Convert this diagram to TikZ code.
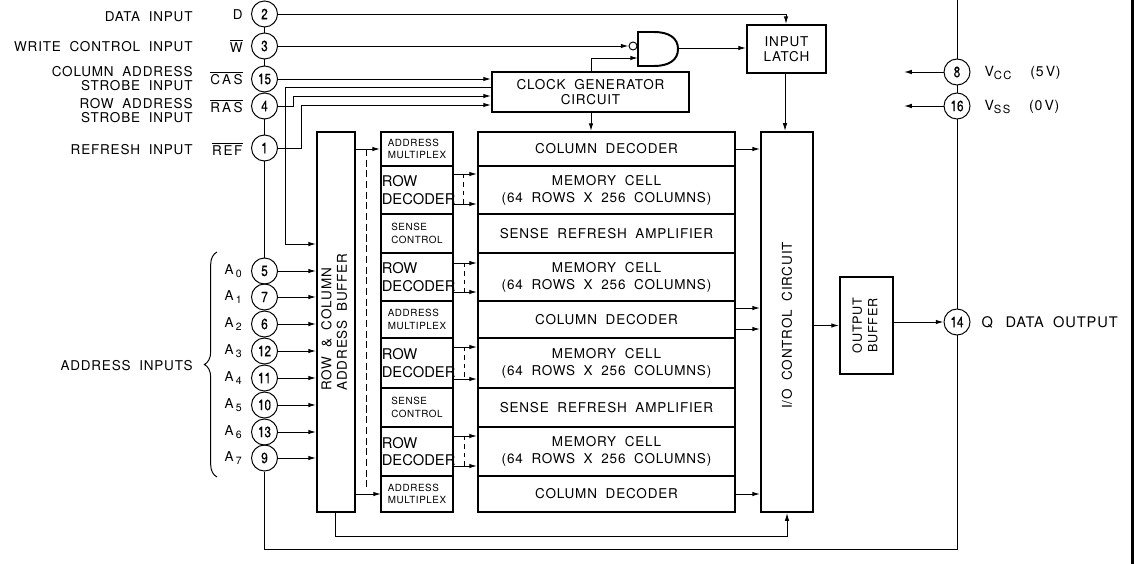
\documentclass[tikz,border=0pt]{standalone}
\usepackage{amsmath}
\usepackage{fontspec}
\setmainfont[LetterSpace=6,WordSpace=1.9]{TeX Gyre Heros}
\newfontfamily\plainfont{TeX Gyre Heros}
\newfontfamily\pinfont[FakeStretch=0.8,FakeBold=0.6]{TeX Gyre Heros}
\usetikzlibrary{arrows.meta,decorations.pathreplacing}

\tikzset{
    pin/.style={draw, circle, inner sep=0pt, minimum size=0.65cm, font=\pinfont\fontsize{10.5}{10.5}\selectfont},
    blockbox/.style={draw, line width=1.4pt, rectangle, inner sep=0pt, align=center},
    smallbox/.style={blockbox, minimum width=1.8cm, align=left, font=\fontsize{7}{9}\selectfont},
    decbox/.style={blockbox, minimum width=1.8cm, text width=1.76cm, align=left, font=\plainfont\fontsize{10.5}{12.5}\selectfont},
    cellbox/.style={blockbox, minimum width=6.425cm, font=\fontsize{9.6}{12}\selectfont},
    lbl/.style={anchor=east, align=right, inner sep=0pt, font=\fontsize{9.6}{10}\selectfont},
}

\begin{document}
\begin{tikzpicture}[x=0.025cm, y=-0.025cm, >={Latex[length=5.5pt,width=3.2pt]}, line width=0.7pt, font=\fontsize{9.6}{11}\selectfont]
        \useasboundingbox (0,0) rectangle (1135,564);
        %% pines de control
        \node[pin] (p2)  at (264.5,14)  {2};
        \node[pin] (p3)  at (264.5,46)  {3};
        \node[pin] (p15) at (264.5,79)  {15};
        \node[pin] (p4)  at (264.5,106) {4};
        \node[pin] (p1)  at (264.5,148) {1};
        %% pines de direccion
        \node[pin] (p5)  at (264.5,271) {5};
        \node[pin] (p7)  at (264.5,297) {7};
        \node[pin] (p6)  at (264.5,324) {6};
        \node[pin] (p12) at (264.5,351) {12};
        \node[pin] (p11) at (264.5,378) {11};
        \node[pin] (p10) at (264.5,405) {10};
        \node[pin] (p13) at (264.5,432) {13};
        \node[pin] (p9)  at (264.5,458) {9};
        %% pines de la derecha
        \node[pin] (p8)  at (957,72)  {8};
        \node[pin] (p16) at (957,106) {16};
        \node[pin] (p14) at (957,322) {14};
        %% textos de la izquierda
        \node[lbl] (ldata)  at (193,17)  {DATA INPUT};
        \node[lbl] (lwrite) at (193,47)  {WRITE CONTROL INPUT};
        \node[lbl] (lcas)   at (193,79)  {COLUMN ADDRESS\\STROBE INPUT};
        \node[lbl] (lras)   at (193,111) {ROW ADDRESS\\STROBE INPUT};
        \node[lbl] (lref)   at (193,150) {REFRESH INPUT};
        \node[lbl] (laddr)  at (193,366) {ADDRESS INPUTS};
        \node[lbl] (sd)   at (243,15)  {D};
        \node[lbl] (sw)   at (243,46)  {$\overline{\mbox{W}}$};
        \node[lbl] (scas) at (243,78)  {$\overline{\mbox{C\kern1.6ptA\kern1.6ptS}}$};
        \node[lbl] (sras) at (243,106) {$\overline{\mbox{R\kern1.6ptA\kern1.6ptS}}$};
        \node[lbl] (sref) at (243,149) {$\overline{\mbox{R\kern1.2ptE\kern1.2ptF}}$};
        \node[lbl] (sa0) at (243,271) {A\,$_{\mbox{\fontsize{7.5}{8}\selectfont 0}}$};
        \node[lbl] (sa1) at (243,297) {A\,$_{\mbox{\fontsize{7.5}{8}\selectfont 1}}$};
        \node[lbl] (sa2) at (243,324) {A\,$_{\mbox{\fontsize{7.5}{8}\selectfont 2}}$};
        \node[lbl] (sa3) at (243,351) {A\,$_{\mbox{\fontsize{7.5}{8}\selectfont 3}}$};
        \node[lbl] (sa4) at (243,378) {A\,$_{\mbox{\fontsize{7.5}{8}\selectfont 4}}$};
        \node[lbl] (sa5) at (243,405) {A\,$_{\mbox{\fontsize{7.5}{8}\selectfont 5}}$};
        \node[lbl] (sa6) at (243,432) {A\,$_{\mbox{\fontsize{7.5}{8}\selectfont 6}}$};
        \node[lbl] (sa7) at (243,458) {A\,$_{\mbox{\fontsize{7.5}{8}\selectfont 7}}$};
        %% textos de la derecha
        \node[anchor=west, inner sep=0pt, font=\fontsize{10}{11}\selectfont] (lvcc) at (984,73)
            {V$_{\mbox{\fontsize{8}{8}\selectfont C\kern1ptC}}$\ \ (5\kern1.5ptV)};
        \node[anchor=west, inner sep=0pt, font=\fontsize{10}{11}\selectfont] (lvss) at (984,107)
            {V$_{\mbox{\fontsize{8}{8}\selectfont S\kern1ptS}}$\ \ (0\kern1.5ptV)};
        \node[anchor=west, inner sep=0pt, font=\fontsize{10.4}{11}\selectfont] (lq) at (981,322)
            {Q\kern9pt DATA OUTPUT};
        %% bloques
        \node[blockbox, minimum width=0.95cm, minimum height=9.5cm] (buf) at (336,322)
            {\rotatebox{90}{\begin{tabular}{@{}l@{}}ROW \& COLUMN\\ADDRESS BUFFER\end{tabular}}};
        \node[smallbox, minimum height=0.85cm] (mux1) at (417,149) {ADDRESS\\MULTIPLEX};
        \node[decbox, minimum height=1.2cm]    (dec1) at (417,190) {ROW\\DECODER};
        \node[smallbox, minimum height=0.975cm] (sen1) at (417,233.5) {SENSE\\CONTROL};
        \node[decbox, minimum height=1.2cm]    (dec2) at (417,277) {ROW\\DECODER};
        \node[smallbox, minimum height=0.925cm] (mux2) at (417,319.5) {ADDRESS\\MULTIPLEX};
        \node[decbox, minimum height=1.25cm]   (dec3) at (417,363) {ROW\\DECODER};
        \node[smallbox, minimum height=0.975cm] (sen2) at (417,407.5) {SENSE\\CONTROL};
        \node[decbox, minimum height=1.225cm]  (dec4) at (417,451.5) {ROW\\DECODER};
        \node[smallbox, minimum height=0.9cm]  (mux3) at (417,494) {ADDRESS\\MULTIPLEX};
        \node[cellbox, minimum height=0.85cm]  (col1) at (606.5,149) {COLUMN DECODER};
        \node[cellbox, minimum height=1.2cm]   (mem1) at (606.5,190) {MEMORY CELL\\(64 ROWS X 256 COLUMNS)};
        \node[cellbox, minimum height=0.975cm] (amp1) at (606.5,233.5) {SENSE REFRESH AMPLIFIER};
        \node[cellbox, minimum height=1.2cm]   (mem2) at (606.5,277) {MEMORY CELL\\(64 ROWS X 256 COLUMNS)};
        \node[cellbox, minimum height=0.925cm] (col2) at (606.5,319.5) {COLUMN DECODER};
        \node[cellbox, minimum height=1.25cm]  (mem3) at (606.5,363) {MEMORY CELL\\(64 ROWS X 256 COLUMNS)};
        \node[cellbox, minimum height=0.975cm] (amp2) at (606.5,407.5) {SENSE REFRESH AMPLIFIER};
        \node[cellbox, minimum height=1.225cm] (mem4) at (606.5,451.5) {MEMORY CELL\\(64 ROWS X 256 COLUMNS)};
        \node[cellbox, minimum height=0.9cm]   (col3) at (606.5,494) {COLUMN DECODER};
        \node[blockbox, minimum width=1.3cm, minimum height=9.5cm] (io) at (787,322)
            {\rotatebox{90}{I/O CONTROL CIRCUIT\hspace{5pt}}};
        \node[blockbox, minimum width=1.325cm, minimum height=2.425cm, font=\fontsize{9}{11}\selectfont] (obuf) at (866.5,325.5)
            {\rotatebox{90}{\begin{tabular}{@{}c@{}}OUTPUT\\BUFFER\end{tabular}}};
        \node[blockbox, minimum width=4.925cm, minimum height=1cm] (clk) at (590.5,92) {CLOCK GENERATOR\\CIRCUIT};
        \node[blockbox, minimum width=1.975cm, minimum height=1.2cm] (latch) at (786.5,49) {INPUT\\LATCH};
        %% compuerta
        \node[draw, circle, inner sep=0pt, minimum size=0.2cm] (bub) at (633,46) {};
        \coordinate (gin2) at (638,58);
        \coordinate (gout) at (678,48);
        \draw[line width=1.4pt] (638,32) -- (654,32) .. controls (669,32) and (678,38) .. (678,49)
            .. controls (678,60) and (669,66) .. (654,66) -- (638,66) -- cycle;
        %% entradas de control
        \coordinate (dn) at (786,14);
        \draw[->] (p2) -- (dn) -- (latch.north -| dn);
        \draw[->] (p3) -- (bub);
        \draw[->] (p15) -- (p15 -| clk.west);
        \coordinate (ras1) at (293,106);
        \coordinate (ras2) at (293,96);
        \draw[->] (p4) -- (ras1) -- (ras2) -- (ras2 -| clk.west);
        \coordinate (ref1) at (301,148);
        \coordinate (ref2) at (301,105);
        \draw[->] (p1) -- (ref1) -- (ref2) -- (ref2 -| clk.west);
        \coordinate (lat1) at (285,87);
        \coordinate (lat2) at (285,244);
        \draw[->] (clk.west |- lat1) -- (lat1) -- (lat2) -- (lat2 -| buf.west);
        %% lineas verticales de pines
        \draw (p2) -- (p3);
        \draw (p3) -- (p15);
        \draw (p4) -- (p1);
        \draw (p1) -- (p5);
        %% reloj y compuerta
        \coordinate (ck1) at (591,58);
        \draw[->] (clk.north -| ck1) -- (ck1) -- (gin2);
        \draw[->] (clk.south -| ck1) -- (col1.north -| ck1);
        \draw[->] (gout) -- (gout -| latch.west);
        \coordinate (lt) at (785,73);
        \draw[->] (lt) -- (io.north -| lt);
        %% direcciones
        \draw[->] (p5) -- (p5 -| buf.west);
        \draw[->] (p7) -- (p7 -| buf.west);
        \draw[->] (p6) -- (p6 -| buf.west);
        \draw[->] (p12) -- (p12 -| buf.west);
        \draw[->] (p11) -- (p11 -| buf.west);
        \draw[->] (p10) -- (p10 -| buf.west);
        \draw[->] (p13) -- (p13 -| buf.west);
        \draw[->] (p9) -- (p9 -| buf.west);
        %% buffer a multiplex
        \draw[->] (buf.east |- mux1) -- (mux1.west);
        \coordinate (bm3) at (381,494);
        \draw[->] (buf.east |- bm3) -- (bm3);
        \draw[dash pattern=on 5pt off 2.6pt] (366,149) -- (366,487);
        %% decodificadores de fila
        \draw[->] (dec1.east |- 0,174) -- (mem1.west |- 0,174);
        \draw[->] (dec1.east |- 0,204) -- (mem1.west |- 0,204);
        \draw[dashed] (463,174) -- (463,204);
        \draw[->] (dec2.east |- 0,263) -- (mem2.west |- 0,263);
        \draw[->] (dec2.east |- 0,292) -- (mem2.west |- 0,292);
        \draw[dashed] (464,263) -- (464,292);
        \draw[->] (dec3.east |- 0,347) -- (mem3.west |- 0,347);
        \draw[->] (dec3.east |- 0,379) -- (mem3.west |- 0,379);
        \draw[dashed] (464,347) -- (464,379);
        \draw[->] (dec4.east |- 0,436) -- (mem4.west |- 0,436);
        \draw[->] (dec4.east |- 0,466) -- (mem4.west |- 0,466);
        \draw[dashed] (464,436) -- (464,466);
        %% decodificadores de columna
        \draw[->] (col1.east) -- (col1 -| io.west);
        \draw[->] (col2.east |- 0,308) -- (io.west |- 0,308);
        \draw[->] (col2.east |- 0,329) -- (io.west |- 0,329);
        \draw[->] (col3.east) -- (col3 -| io.west);
        %% salida
        \draw[->] (io.east |- obuf) -- (obuf.west);
        \draw[->] (obuf.east |- p14) -- (p14);
        %% lineas inferiores
        \coordinate (bl1) at (335,536);
        \draw[->] (buf.south -| bl1) -- (bl1) -- (io.south |- bl1) -- (io.south);
        \coordinate (bl2) at (264.5,549);
        \coordinate (bl3) at (957,549);
        \draw (p9) -- (bl2) -- (bl3) -- (p14);
        %% alimentacion
        \coordinate (ptop) at (957,0);
        \coordinate (vcc) at (904,72);
        \coordinate (vss) at (904,106);
        \draw (ptop) -- (p8);
        \draw (p8) -- (p16);
        \draw (p16) -- (p14);
        \draw[->] (p8) -- (vcc);
        \draw[->] (p16) -- (vss);
        %% llave de direcciones
        \draw[decorate, decoration={brace, amplitude=9pt}] (217,477) -- (217,252);
        %% borde derecho
        \coordinate (edge1) at (1132.5,0);
        \coordinate (edge2) at (1132.5,564);
        \draw[line width=1.6pt] (edge1) -- (edge2);
    \end{tikzpicture}
\end{document}
